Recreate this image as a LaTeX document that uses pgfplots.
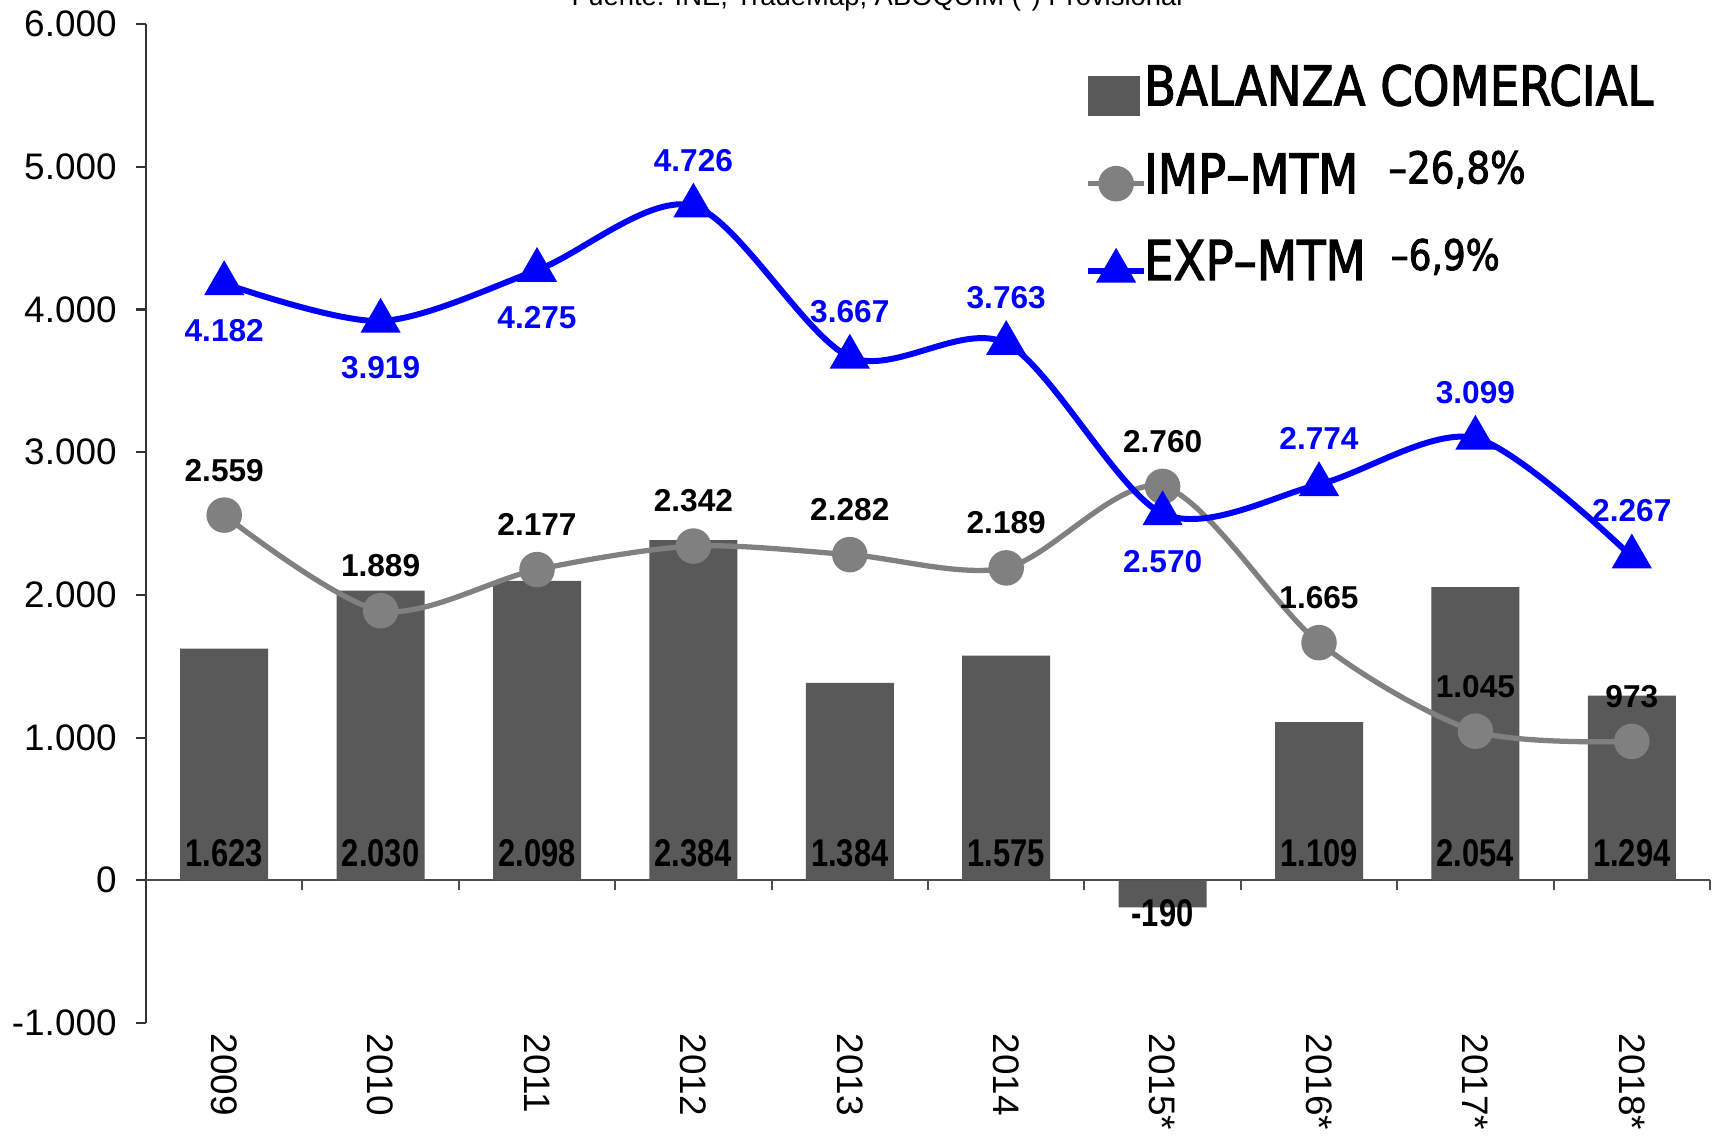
\documentclass[border=0pt]{standalone}
\usepackage{fontspec}
\setmainfont{Liberation Sans}
\newfontfamily\legfont[FakeStretch=0.85, FakeBold=2]{DejaVu Sans}
\newfontfamily\barfont[FakeStretch=0.8]{Liberation Sans}
\usepackage{pgfplots}
\pgfplotsset{compat=1.18}
\definecolor{barcol}{HTML}{595959}
\definecolor{impcol}{HTML}{808080}
\definecolor{expcol}{HTML}{0000FF}

\pgfplotsset{
  lineleg/.style={legend image code/.code={%
    \draw[mark repeat=2, mark phase=2, ##1] plot coordinates {(0cm,-0.09cm) (0.28cm,-0.09cm) (0.56cm,-0.09cm)};}},
  barleg/.style={legend image code/.code={%
    \fill[barcol] (0cm,-0.28cm) rectangle (0.52cm,0.12cm);}},
  vallabel/.style={draw=none, mark=none, forget plot, nodes near coords,
    point meta=explicit symbolic, nodes near coords align=center,
    every node near coord/.append style={#1}},
}

% balanza comercial (bars)
\pgfplotstableread{
x bal
0 1623
1 2030
2 2098
3 2384
4 1384
5 1575
6 -190
7 1109
8 2054
9 1294
}\balanza

\pgfplotstableread{
x imp
0 2559
1 1889
2 2177
3 2342
4 2282
5 2189
6 2760
7 1665
8 1045
9 973
}\imp

\pgfplotstableread{
x exp
0 4182
1 3919
2 4275
3 4726
4 3667
5 3763
6 2570
7 2774
8 3099
9 2267
}\exp

% label positions
\pgfplotstableread{
x y lab
0 190 1.623
1 190 2.030
2 190 2.098
3 190 2.384
4 190 1.384
5 190 1.575
6 -230 -190
7 190 1.109
8 190 2.054
9 190 1.294
}\ballab

\pgfplotstableread{
x y lab
0 2874 2.559
1 2204 1.889
2 2492 2.177
3 2657 2.342
4 2597 2.282
5 2504 2.189
6 3075 2.760
7 1980 1.665
8 1360 1.045
9 1288 973
}\implab

\pgfplotstableread{
x y lab
0 3852 4.182
1 3589 3.919
2 3945 4.275
3 5046 4.726
4 3987 3.667
5 4083 3.763
6 2235 2.570
7 3094 2.774
8 3419 3.099
9 2587 2.267
}\explab

\begin{document}
\begin{tikzpicture}
\useasboundingbox (0,0) rectangle (17.19cm,11.36cm);
\node[anchor=base, font=\fontsize{7.8}{9}\selectfont] at (8.77cm,11.31cm)
  {Fuente: INE, TradeMap, ABOQUIM (*) Provisional};
\begin{axis}[
  at={(1.46cm,1.13cm)}, anchor=south west,
  scale only axis, width=15.64cm, height=9.99cm,
  xmin=-0.5, xmax=9.5, ymin=-1000, ymax=6000,
  axis x line*=bottom, axis y line*=left,
  x axis line style={draw=none},
  y axis line style={black!80, line width=0.6pt},
  xtick={0,...,9},
  xticklabels={2009,2010,2011,2012,2013,2014,2015*,2016*,2017*,2018*},
  xtick style={draw=none},
  xticklabel style={rotate=-90, anchor=west, inner sep=0pt, font=\fontsize{10.5}{12}\selectfont},
  ytick={-1000,0,...,6000},
  yticklabels={-1.000,0,1.000,2.000,3.000,4.000,5.000,6.000},
  yticklabel style={font=\fontsize{10.5}{12}\selectfont, xshift=-0.07cm},
  tick align=outside, major tick length=0.1cm,
  ytick style={black!80, line width=0.6pt},
  clip=false,
  legend cell align=left,
  legend style={at={(rel axis cs:0.6,0.967)}, anchor=north west, draw=none, fill=none,
    font=\legfont\fontsize{15.6}{18}\selectfont, row sep=0.26cm, inner sep=0pt,
    /tikz/every odd column/.append style={column sep=-0.1cm}},
]
\draw[black!70, line width=0.6pt] (axis cs:-0.5,0) -- (axis cs:9.5,0);
\pgfplotsinvokeforeach{0.5,1.5,...,9.5}{
  \draw[black!70, line width=0.6pt] (axis cs:#1,0) -- ([yshift=-0.1cm]axis cs:#1,0);
}
\addplot[ybar, bar width=0.88cm, fill=barcol, draw=none, barleg]
  table[x=x, y=bal] {\balanza};
\addlegendentry{BALANZA COMERCIAL}
\addplot[impcol, line width=1.5pt, smooth, mark=*, mark size=4.3pt,
  mark options={fill=impcol, draw=impcol}, lineleg]
  table[x=x, y=imp] {\imp};
\addlegendentry{IMP–MTM\hspace{0.3cm}\raisebox{0.1cm}{\fontsize{12.5}{14}\selectfont –26,8\%}}
\addplot[expcol, line width=1.7pt, smooth, mark=triangle*, mark size=4.9pt,
  mark options={fill=expcol, draw=expcol}, lineleg]
  table[x=x, y=exp] {\exp};
\addlegendentry{EXP–MTM\hspace{0.25cm}\raisebox{0.1cm}{\fontsize{12}{14}\selectfont –6,9\%}}
% value labels
\addplot[vallabel={font=\barfont\bfseries\fontsize{11}{12}\selectfont, text=black}]
  table[x=x, y=y, meta=lab] {\ballab};
\addplot[vallabel={font=\bfseries\fontsize{9}{10}\selectfont, text=black}]
  table[x=x, y=y, meta=lab] {\implab};
\addplot[vallabel={font=\bfseries\fontsize{9}{10}\selectfont, text=expcol}]
  table[x=x, y=y, meta=lab] {\explab};
\end{axis}
\end{tikzpicture}
\end{document}
